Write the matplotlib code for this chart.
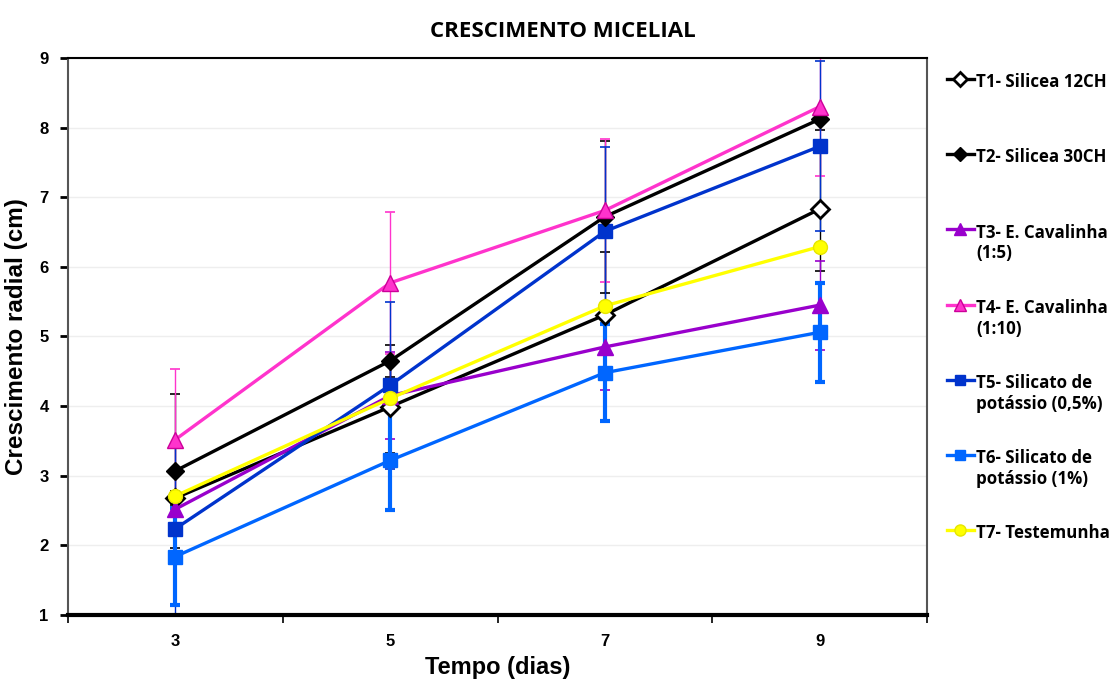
import matplotlib.pyplot as plt
from matplotlib.ticker import FixedLocator, NullFormatter

# data
dias = [3, 5, 7, 9]

nomes = ["T1- Silicea 12CH", "T2- Silicea 30CH", "T3- E. Cavalinha\n(1:5)",
         "T4- E. Cavalinha\n(1:10)", "T5- Silicato de\npotássio (0,5%)",
         "T6- Silicato de\npotássio (1%)", "T7- Testemunha"]

t1 = [2.68, 3.99, 5.31, 6.83]
t2 = [3.07, 4.65, 6.72, 8.12]
t3 = [2.52, 4.15, 4.85, 5.45]
t4 = [3.52, 5.77, 6.81, 8.30]
t5 = [2.24, 4.30, 6.51, 7.73]
t6 = [1.84, 3.22, 4.48, 5.06]
t7 = [2.71, 4.11, 5.44, 6.29]

err_t1 = [0.10, 0.67, 0.90, 0.89]
err_t2 = [1.11, 0.23, 1.09, 0.15]
err_t3 = [0.10, 0.62, 0.62, 0.64]
err_t4 = [1.01, 1.02, 1.03, 1.00]
err_t5 = [1.22, 1.20, 1.21, 1.22]
err_t6 = [0.70, 0.71, 0.70, 0.71]
err_t7 = [0.0, 0.0, 0.0, 0.0]

FONT = "Liberation Sans"

# style per series: color, marker, face, errorbar width, zorder
estilos = [
    ("#000000", "D", "white", 1.0, 3),
    ("#000000", "D", "#000000", 1.0, 4),
    ("#9900cc", "^", "#9900cc", 1.0, 3),
    ("#ff33cc", "^", "#ff33cc", 1.0, 6),
    ("#0033cc", "s", "#0033cc", 1.0, 3),
    ("#0066ff", "s", "#0066ff", 3.0, 3),
    ("#ffff00", "o", "#ffff00", 1.0, 5),
]
series = [t1, t2, t3, t4, t5, t6, t7]
erros = [err_t1, err_t2, err_t3, err_t4, err_t5, err_t6, err_t7]

fig = plt.figure(figsize=(11.19, 6.86), dpi=100)
ax = fig.add_axes([0.0608, 0.1035, 0.7676, 0.812])

for valores, erro, (cor, marc, face, elw, z) in zip(series, erros, estilos):
    if max(erro) > 0:
        ax.errorbar(dias, valores, yerr=erro, fmt="none", ecolor=cor,
                    elinewidth=elw, capsize=3.5, capthick=elw if elw > 1 else 1.2,
                    zorder=2)

for valores, nome, (cor, marc, face, elw, z) in zip(series, nomes, estilos):
    ms = 11.5 if marc == "^" else (10 if marc == "o" else 9.5)
    edge = "#cc0099" if cor == "#ff33cc" else cor
    if marc == "o":
        edge = "#e6e600"
    # every legend entry gets two lines so they are evenly spaced
    rotulo = nome if "\n" in nome else nome + "\n "
    ax.plot(dias, valores, color=cor, marker=marc, markersize=ms,
            markerfacecolor=face, markeredgecolor=edge, markeredgewidth=2 if face == "white" else 1,
            linewidth=2.4, label=rotulo, zorder=z)

ax.set_xlim(2, 10)
ax.set_ylim(1, 9)
ax.xaxis.set_major_locator(FixedLocator([2, 4, 6, 8, 10]))
ax.xaxis.set_major_formatter(NullFormatter())
ax.xaxis.set_minor_locator(FixedLocator(dias))
ax.set_xticklabels([str(d) for d in dias], minor=True)
ax.tick_params(axis="x", which="major", direction="out", length=6, width=1.2, color="black")
ax.tick_params(axis="x", which="minor", length=0, pad=14)
ax.tick_params(axis="y", direction="out", length=6, width=2, color="black", pad=8)
ax.set_yticks(range(1, 10))

for lab in ax.get_xticklabels(minor=True) + ax.get_yticklabels():
    lab.set_fontfamily(FONT)
    lab.set_fontweight("bold")
    lab.set_fontsize(12)

ax.yaxis.grid(True, color="#eeeeee", linewidth=1)
ax.set_axisbelow(True)

ax.spines["left"].set_color("#555555")
ax.spines["left"].set_linewidth(1.5)
ax.spines["right"].set_color("#555555")
ax.spines["right"].set_linewidth(1.5)
ax.spines["top"].set_color("black")
ax.spines["top"].set_linewidth(1.5)
ax.spines["bottom"].set_color("black")
ax.spines["bottom"].set_linewidth(3)

ax.set_xlabel("Tempo (dias)", fontfamily=FONT, fontweight="bold", fontsize=17, labelpad=5)
ax.set_ylabel("Crescimento radial (cm)", fontfamily=FONT, fontweight="bold", fontsize=17.5, labelpad=8)
fig.suptitle("CRESCIMENTO MICELIAL", fontfamily="Open Sans", fontweight="bold",
             fontsize=16, x=0.503, y=0.97)

leg = ax.legend(loc="upper left", bbox_to_anchor=(1.015, 0.985), frameon=False,
                prop={"family": "Open Sans", "weight": "bold", "size": 12.2},
                handlelength=1.6, handletextpad=0.15, labelspacing=2.15,
                markerscale=0.8, borderaxespad=0)
# put the marker on the first line of each label
for coluna in leg._legend_handle_box.get_children():
    for item in coluna.get_children():
        item.align = "top"

fig.savefig("out.png", dpi=100)
